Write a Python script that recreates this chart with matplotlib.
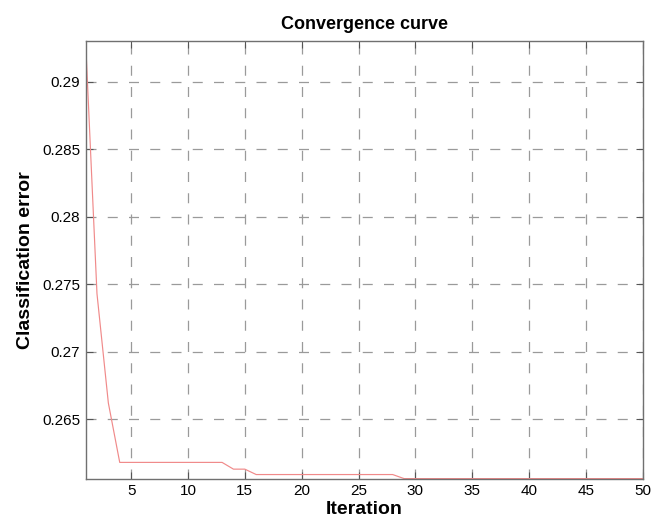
import numpy as np
import matplotlib
matplotlib.use("Agg")
import matplotlib.pyplot as plt

# values
iterations = list(range(1, 51))
error = ([0.2930, 0.2743, 0.2662]
         + [0.2618] * 10      # iterations 4-13
         + [0.2613] * 2       # 14-15
         + [0.2609] * 13      # 16-28
         + [0.2606] * 22)     # 29-50

xticks = [5, 10, 15, 20, 25, 30, 35, 40, 45, 50]
yticks = [0.265, 0.27, 0.275, 0.28, 0.285, 0.29]
ytick_labels = ["0.265", "0.27", "0.275", "0.28", "0.285", "0.29"]

plt.rcParams['font.family'] = ['Liberation Sans', 'DejaVu Sans']

fig = plt.figure(figsize=(6.51, 5.30), dpi=100)
ax = fig.add_axes([0.1315, 0.097, 0.856, 0.825])

ax.plot(iterations, error, color='#f08a8a', linewidth=0.85)

ax.set_xlim(1, 50)
ax.set_ylim(min(error), max(error))
ax.set_xticks(xticks)
ax.set_yticks(yticks)
ax.set_yticklabels(ytick_labels)

# matlab-like dashed grid
ax.grid(True, linestyle=(0, (8, 9)), color='#9a9a9a', linewidth=0.9)
ax.tick_params(direction='in', top=True, right=True, length=5,
               color='#555555', labelsize=11, pad=4)
for s in ax.spines.values():
    s.set_color('#707070')
    s.set_linewidth(1.0)

ax.set_title("Convergence curve", fontsize=13, fontweight='bold', pad=9)
ax.set_xlabel("Iteration", fontsize=14, fontweight='bold', labelpad=2)
ax.set_ylabel("Classification error", fontsize=14, fontweight='bold', labelpad=6)

fig.savefig("out.png", dpi=100)
